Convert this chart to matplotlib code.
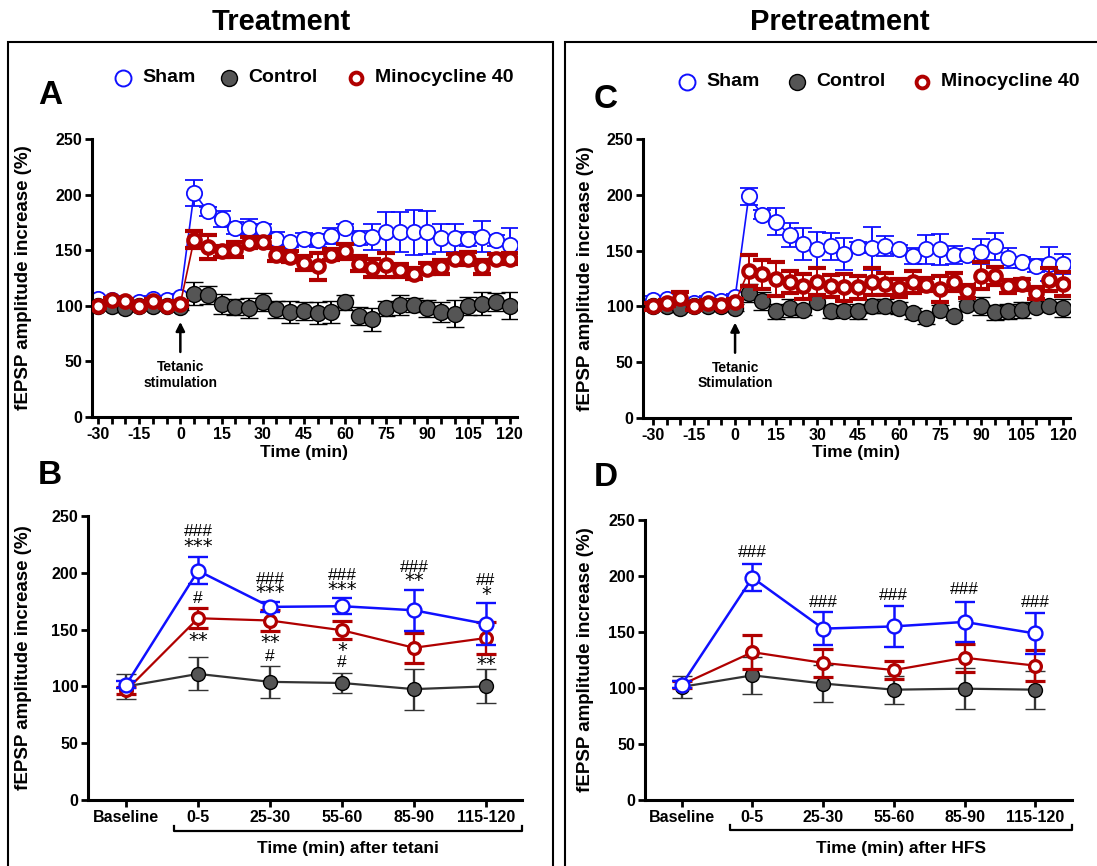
import numpy as np
import matplotlib
matplotlib.use("Agg")
import matplotlib.pyplot as plt
from matplotlib.lines import Line2D
from matplotlib.patches import Rectangle
import matplotlib.transforms as mtransforms

plt.rcParams['font.family'] = ['Liberation Sans', 'DejaVu Sans']
plt.rcParams['font.weight'] = 'bold'
plt.rcParams['axes.unicode_minus'] = False

# ---- data ----
time_min = [-30, -25, -20, -15, -10, -5, 0, 5, 10, 15, 20, 25, 30, 35, 40, 45, 50,
            55, 60, 65, 70, 75, 80, 85, 90, 95, 100, 105, 110, 115, 120]

# Panel A (treatment)
sham_a = [106, 105.5, 102, 103.6, 106, 105, 108,
          201.5, 185, 178, 170, 170, 169, 160, 157, 160, 159, 163, 170,
          161, 162, 166, 166, 166, 166, 161, 161, 160, 162, 159, 155]
sham_a_err = [3, 3, 3, 3, 3, 3, 3,
              12, 4, 7, 5, 8, 5, 6, 4, 5.5, 6, 7, 4,
              6, 12, 18, 18, 20, 19, 13, 13, 6, 14, 5, 15]
ctrl_a = [100, 100, 98, 100, 100, 100, 99,
          111, 109.6, 102, 99, 97.6, 103.6, 96.7, 94.6, 95.5, 93.7, 94.6, 103,
          90.7, 87.7, 97.6, 100.6, 100.6, 97.6, 94.6, 93, 100, 102, 103.6, 100]
ctrl_a_err = [3, 3, 3, 3, 3, 3, 3,
              10, 8, 9, 7, 9, 8, 8, 10, 8, 10, 10, 7,
              8, 10, 7, 9, 6, 8, 9, 12, 8, 10, 8, 12]
mino_a = [100, 105, 104.5, 100, 104.5, 100, 102,
          159.6, 153, 149, 150.6, 156.6, 157.5, 146, 144, 138.6, 135.6, 146, 149,
          138, 134, 136.5, 132, 129, 133.5, 135, 142.5, 142.5, 135, 142.5, 142.5]
mino_a_err = [2, 2, 2, 2, 2, 2, 2,
              8, 11, 5, 7, 5, 4, 6, 5, 6, 12, 5, 7,
              7, 8, 11, 6, 5, 5, 6, 4, 6, 6, 4, 5]

# Panel C (pretreatment)
sham_c = [106, 106.5, 102, 103, 106.5, 104.5, 108,
          198.5, 182, 176, 164, 156, 151, 154, 147, 153, 152, 154, 151,
          145, 151, 151, 146, 146, 149, 154, 143, 139.5, 136.5, 138, 138]
sham_c_err = [3, 3, 3, 3, 3, 3, 3,
              8, 4, 12, 11, 14, 16, 12, 14, 5, 19, 9, 4,
              7, 13, 14, 8, 5, 11, 12, 9, 5, 6, 15, 9]
ctrl_c = [100, 100, 99, 100, 100, 100, 99,
          112, 104.5, 95.5, 98.5, 96.5, 103.5, 95.5, 95.5, 95.5, 100.5, 100.5, 98.5,
          94, 89.5, 97, 91.5, 101, 100, 94.6, 95.5, 96.5, 99.4, 100, 98.5]
ctrl_c_err = [3, 3, 3, 3, 3, 3, 3,
              8, 8, 7, 8, 4, 4, 6, 4, 7, 6, 6, 5,
              5, 5, 4, 4, 4, 8, 7, 7, 7, 4, 4, 8]
mino_c = [100, 103, 107.5, 100, 103, 101.5, 103.5,
          132, 129, 124.5, 122, 118, 122, 118, 117, 117, 122, 120, 116.5,
          122, 119.5, 115.5, 122, 113.5, 127.5, 127.5, 118, 120, 112, 124, 120]
mino_c_err = [3, 3, 5, 3, 3, 3, 3,
              14, 13, 15, 10, 11, 12, 10, 12, 10, 12, 10, 8,
              10, 6, 12, 8, 6, 12, 8, 6, 5, 5, 10, 11]

# Panels B and D (binned)
bins = ['Baseline', '0-5', '25-30', '55-60', '85-90', '115-120']

sham_b = [101.5, 201.8, 170, 170.6, 167, 155]
sham_b_err = [3, 12, 4.4, 7, 18, 18.5]
mino_b = [96.5, 160, 158, 149.4, 134, 142.6]
mino_b_err = [3, 9, 9, 8, 13, 14.5]
ctrl_b = [100, 111, 104, 103, 97.6, 100]
ctrl_b_err = [11, 14.6, 14, 9, 18, 15]

sham_d = [103, 198.5, 153, 155, 159, 148.7]
sham_d_err = [3, 12, 14.5, 18, 18, 18]
mino_d = [103, 132, 122.4, 116, 127, 120]
mino_d_err = [3, 15, 12.6, 8, 12.7, 13.7]
ctrl_d = [101, 111.3, 104, 98.5, 99.4, 98.5]
ctrl_d_err = [10, 16.5, 16.4, 12.5, 18.5, 17]

# significance marks: (bin index, text, y value)
marks_b = [(1, '###', 236), (1, '***', 223), (2, '###', 194), (2, '***', 182.6),
           (3, '###', 198), (3, '***', 185.6), (4, '###', 204.7), (4, '**', 193),
           (5, '##', 193.5), (5, '*', 181),
           (1, '#', 177), (1, '**', 140.6), (2, '**', 139), (2, '#', 126),
           (3, '*', 131.8), (3, '#', 120.6), (5, '**', 119)]
marks_d = [(1, '###', 221), (2, '###', 176), (3, '###', 183), (4, '###', 187.5),
           (5, '###', 176)]

BLUE = '#1010ff'
RED = '#b00000'
GRAY = '#555555'

W, H = 1097, 866
fig = plt.figure(figsize=(W / 100, H / 100), dpi=100)


def fx(x):
    return x / W


def fy(y):
    return 1 - y / H


def add_ax(left, right, top, bottom):
    return fig.add_axes([fx(left), fy(bottom), fx(right - left), (bottom - top) / H])


def style_axis(ax):
    for s in ['top', 'right']:
        ax.spines[s].set_visible(False)
    for s in ['left', 'bottom']:
        ax.spines[s].set_linewidth(2.2)
    ax.set_ylim(0, 250)
    ax.set_yticks([0, 50, 100, 150, 200, 250])
    ax.tick_params(axis='both', which='both', direction='out', width=2,
                   length=5, labelsize=11.5, pad=2)
    for lab in ax.get_xticklabels() + ax.get_yticklabels():
        lab.set_fontweight('bold')
    ax.set_ylabel('fEPSP amplitude increase (%)', fontsize=13.5, fontweight='bold')


def time_panel(ax, sham, sham_e, ctrl, ctrl_e, mino, mino_e, xlim, stim_text):
    ax.errorbar(time_min, sham, yerr=sham_e, color=BLUE, lw=1.2, marker='o', ms=11,
                mfc='white', mec=BLUE, mew=1.3, capsize=6.5, capthick=1.4, elinewidth=1.4,
                zorder=2)
    ax.errorbar(time_min, ctrl, yerr=ctrl_e, color='black', lw=1.0, marker='o', ms=11.5,
                mfc=GRAY, mec='black', mew=1.0, capsize=6.5, capthick=1.4, elinewidth=1.4,
                zorder=3)
    ax.errorbar(time_min, mino, yerr=mino_e, color=RED, lw=1.2, marker='o', ms=9,
                mfc='white', mec=RED, mew=3.0, capsize=6.5, capthick=1.4, elinewidth=1.4,
                zorder=4)
    ax.set_xlim(*xlim)
    ax.set_xticks(range(-30, 121, 15))
    ax.set_xticks(range(-30, 121, 5), minor=True)
    style_axis(ax)
    ax.set_xlabel('Time (min)', fontsize=12.5, fontweight='bold', labelpad=2)
    ax.annotate('', xy=(0, 88), xytext=(0, 56),
                arrowprops=dict(arrowstyle='-|>', color='black', lw=1.8,
                                mutation_scale=13))
    ax.text(0, 38, stim_text, ha='center', va='center', fontsize=10,
            fontweight='bold', linespacing=1.15)


def bin_panel(ax, sham, sham_e, ctrl, ctrl_e, mino, mino_e, xlim):
    xs = list(range(len(bins)))
    ax.errorbar(xs, ctrl, yerr=ctrl_e, color='#333333', lw=1.6, marker='o', ms=10,
                mfc=GRAY, mec='black', mew=1.0, capsize=7, capthick=1.7, elinewidth=1.7,
                zorder=2)
    ax.errorbar(xs, mino, yerr=mino_e, color=RED, lw=1.6, marker='o', ms=8.5,
                mfc='white', mec=RED, mew=2.3, capsize=7, capthick=1.7, elinewidth=1.7,
                zorder=3)
    ax.errorbar(xs, sham, yerr=sham_e, color=BLUE, lw=1.8, marker='o', ms=10,
                mfc='white', mec=BLUE, mew=1.7, capsize=7, capthick=1.8, elinewidth=1.8,
                zorder=4)
    ax.set_xlim(*xlim)
    ax.set_xticks(xs)
    ax.set_xticklabels(bins)
    style_axis(ax)


# ---- panel frames ----
fig.add_artist(Rectangle((fx(8), fy(1000)), fx(545), (1000 - 42) / H, fill=False,
                         lw=1.5, ec='black', transform=fig.transFigure))
fig.add_artist(Rectangle((fx(565), fy(1000)), fx(600), (1000 - 42) / H, fill=False,
                         lw=1.5, ec='black', transform=fig.transFigure))
fig.text(fx(281), fy(22), 'Treatment', ha='center', va='center', fontsize=21,
         fontweight='bold')
fig.text(fx(840), fy(22), 'Pretreatment', ha='center', va='center', fontsize=21,
         fontweight='bold')

# ---- legends ----
def legend_row(y, xs):
    specs = [('Sham', dict(ms=11.5, mfc='white', mec=BLUE, mew=1.4)),
             ('Control', dict(ms=11.5, mfc=GRAY, mec='black', mew=1.0)),
             ('Minocycline 40', dict(ms=8.5, mfc='white', mec=RED, mew=2.8))]
    for (label, kw), x in zip(specs, xs):
        fig.add_artist(Line2D([fx(x)], [fy(y)], marker='o', ls='none',
                              transform=fig.transFigure, **kw))
        fig.text(fx(x + 19), fy(y), label, ha='left', va='center', fontsize=14,
                 fontweight='bold')


legend_row(78, [123, 229, 356])
legend_row(82, [687, 797, 922])

for letter, x, y in [('A', 50, 95), ('B', 50, 475), ('C', 606, 99), ('D', 606, 478)]:
    fig.text(fx(x), fy(y), letter, ha='center', va='center', fontsize=24,
             fontweight='bold')

# ---- panel A ----
ax_a = add_ax(92, 517, 139, 417)
time_panel(ax_a, sham_a, sham_a_err, ctrl_a, ctrl_a_err, mino_a, mino_a_err,
           (-32.2, 122.7), 'Tetanic\nstimulation')
ax_a.yaxis.set_label_coords((32 - 92) / 425, 0.5)

# ---- panel C ----
ax_c = add_ax(643, 1070, 139, 418)
time_panel(ax_c, sham_c, sham_c_err, ctrl_c, ctrl_c_err, mino_c, mino_c_err,
           (-33.7, 122.6), 'Tetanic\nStimulation')
ax_c.yaxis.set_label_coords((594 - 643) / 427, 0.5)

# ---- panel B ----
ax_b = add_ax(88, 522, 516, 800)
bin_panel(ax_b, sham_b, sham_b_err, ctrl_b, ctrl_b_err, mino_b, mino_b_err,
          (-0.53, 5.5))
ax_b.yaxis.set_label_coords((32 - 88) / 434, 0.5)
for i, t, y in marks_b:
    star = '*' in t
    ax_b.text(i, y, t, ha='center', va='center', fontsize=14 if star else 12.5,
              fontweight='normal', family='DejaVu Sans' if star else 'Liberation Sans')

# ---- panel D ----
ax_d = add_ax(645, 1072, 520, 800)
bin_panel(ax_d, sham_d, sham_d_err, ctrl_d, ctrl_d_err, mino_d, mino_d_err,
          (-0.52, 5.52))
ax_d.yaxis.set_label_coords((594 - 645) / 427, 0.5)
for i, t, y in marks_d:
    ax_d.text(i, y, t, ha='center', va='center', fontsize=12.5, fontweight='normal')

# brackets under the time bins
for ax, x0, x1, label in [(ax_b, 0.66, 5.5, 'Time (min) after tetani'),
                          (ax_d, 0.68, 5.52, 'Time (min) after HFS')]:
    tr = mtransforms.blended_transform_factory(ax.transData, ax.transAxes)
    ax.plot([x0, x0, x1, x1], [-0.09, -0.108, -0.108, -0.09], color='black', lw=1.6,
            transform=tr, clip_on=False)
    ax.text((x0 + x1) / 2, -0.172, label, ha='center', va='center', fontsize=12.5,
            fontweight='bold', transform=tr)

fig.savefig('out.png', dpi=100)
